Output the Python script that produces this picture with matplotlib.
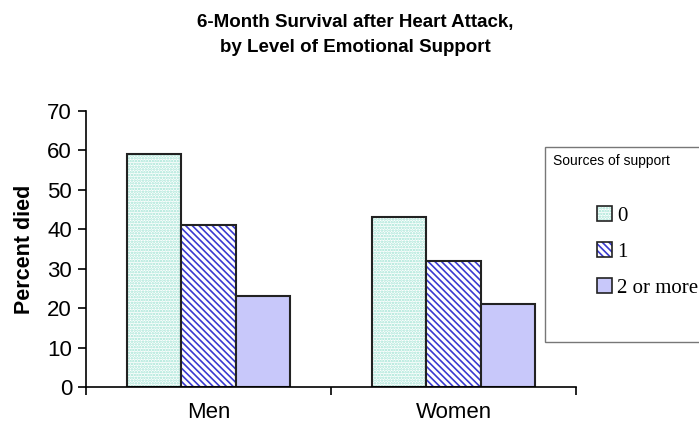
import matplotlib.pyplot as plt
from matplotlib.patches import Patch, Rectangle

groups = ["Men", "Women"]
support_levels = ["0", "1", "2 or more"]
percent_died = {
    "0": [59, 43],
    "1": [41, 32],
    "2 or more": [23, 21],
}

# fill / hatch look for each level
styles = {
    "0": dict(face="white", hatch="......", hcolor="#9fe3d3"),
    "1": dict(face="white", hatch="\\\\\\\\\\", hcolor="#3a3ad0"),
    "2 or more": dict(face="#c8c8fa", hatch=None, hcolor="none"),
}

plt.rcParams["font.family"] = ["Liberation Sans", "DejaVu Sans"]
plt.rcParams["hatch.linewidth"] = 1.2

fig = plt.figure(figsize=(6.99, 4.32), dpi=100)
ax = fig.add_axes([86 / 699, 45 / 432, 490 / 699, 276 / 432])

width = 0.222
xs = list(range(len(groups)))
for i, level in enumerate(support_levels):
    st = styles[level]
    pos = [x + (i - 1) * width for x in xs]
    ax.bar(pos, percent_died[level], width, color=st["face"], hatch=st["hatch"],
           edgecolor=st["hcolor"], linewidth=0)
    ax.bar(pos, percent_died[level], width, fill=False, edgecolor="#222222", linewidth=1.5)

ax.set_xlim(-0.5, len(groups) - 0.5)
ax.set_ylim(0, 70)
ax.set_yticks(range(0, 71, 10))
ax.set_xticks([-0.5, 0.5, 1.5])
ax.set_xticklabels([])
ax.set_xticks(xs, minor=True)
ax.set_xticklabels(groups, minor=True)
ax.tick_params(axis="x", which="minor", length=0, pad=11, labelsize=16)
ax.tick_params(axis="x", which="major", length=6, width=1.2, direction="out")
ax.tick_params(axis="y", length=6, width=1.2, labelsize=16, pad=4)
for side in ["top", "right"]:
    ax.spines[side].set_visible(False)
for side in ["left", "bottom"]:
    ax.spines[side].set_linewidth(1.2)

ax.set_ylabel("Percent died", fontsize=15.5, fontweight="bold", labelpad=9)

fig.text(355 / 699, 1 - 22 / 432, "6-Month Survival after Heart Attack,",
         ha="center", va="center", fontsize=13.5, fontweight="bold")
fig.text(355 / 699, 1 - 48 / 432, "by Level of Emotional Support",
         ha="center", va="center", fontsize=13.5, fontweight="bold")

# legend box
fig.patches.append(Rectangle((545 / 699, 1 - 342 / 432), 160 / 699, 195 / 432,
                             transform=fig.transFigure, facecolor="white",
                             edgecolor="#777777", linewidth=1.0, zorder=5))
fig.text(553 / 699, 1 - 161 / 432, "Sources of support", fontsize=10,
         ha="left", va="center", zorder=6)
handles = []
for level in support_levels:
    st = styles[level]
    fill = Patch(facecolor=st["face"], hatch=st["hatch"], edgecolor=st["hcolor"], linewidth=0)
    outline = Patch(fill=False, edgecolor="#222222", linewidth=1.2)
    handles.append((fill, outline))
leg = fig.legend(handles=handles, labels=support_levels, loc="upper left",
                 bbox_to_anchor=(587 / 699, 1 - 196 / 432), frameon=False,
                 prop={"family": "Liberation Serif", "size": 15},
                 handlelength=0.7, handleheight=0.7, handletextpad=0.25,
                 labelspacing=0.78, borderpad=0)
leg.set_zorder(7)

fig.savefig("out.png", dpi=100)
